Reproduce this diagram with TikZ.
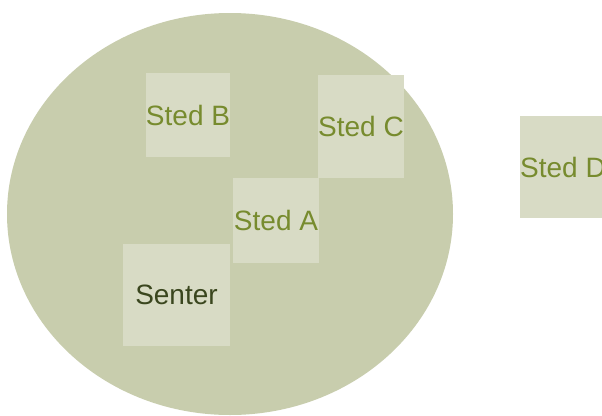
\documentclass[tikz,border=0pt]{standalone}
\usepackage{fontspec}
\setmainfont{Liberation Sans}
\usetikzlibrary{shapes.geometric}
\definecolor{ellcol}{HTML}{C8CDAD}
\definecolor{boxcol}{HTML}{D8DBC5}
\definecolor{txtcol}{HTML}{778B2E}
\definecolor{sentcol}{HTML}{3A461E}
\begin{document}
\begin{tikzpicture}[x=1pt,y=-1pt,
  sted/.style={rectangle, fill=boxcol, inner sep=0pt, text=txtcol,
    font=\fontsize{28}{30}\selectfont, align=center},
  omraade/.style={ellipse, fill=ellcol, inner sep=0pt, draw=none}]
\clip (0,0) rectangle (602,415);
\fill[white] (0,0) rectangle (602,415);
\useasboundingbox (0,0) rectangle (602,415);
\node[omraade, minimum width=446pt, minimum height=402pt] (omr) at (230,214) {};
\node[sted, minimum width=84pt, minimum height=84pt] (b) at (188,115) {Sted B};
\node[sted, minimum width=84pt, minimum height=103pt] (c) at (361,126.5) {Sted C};
\node[sted, minimum width=86pt, minimum height=85pt] (a) at (276,220.5) {Sted A};
\node[sted, minimum width=107pt, minimum height=102pt, text=sentcol] (s) at (176.5,295) {Senter};
\node[sted, minimum width=84pt, minimum height=102pt] (d) at (563,167) {Sted D};
\end{tikzpicture}
\end{document}
